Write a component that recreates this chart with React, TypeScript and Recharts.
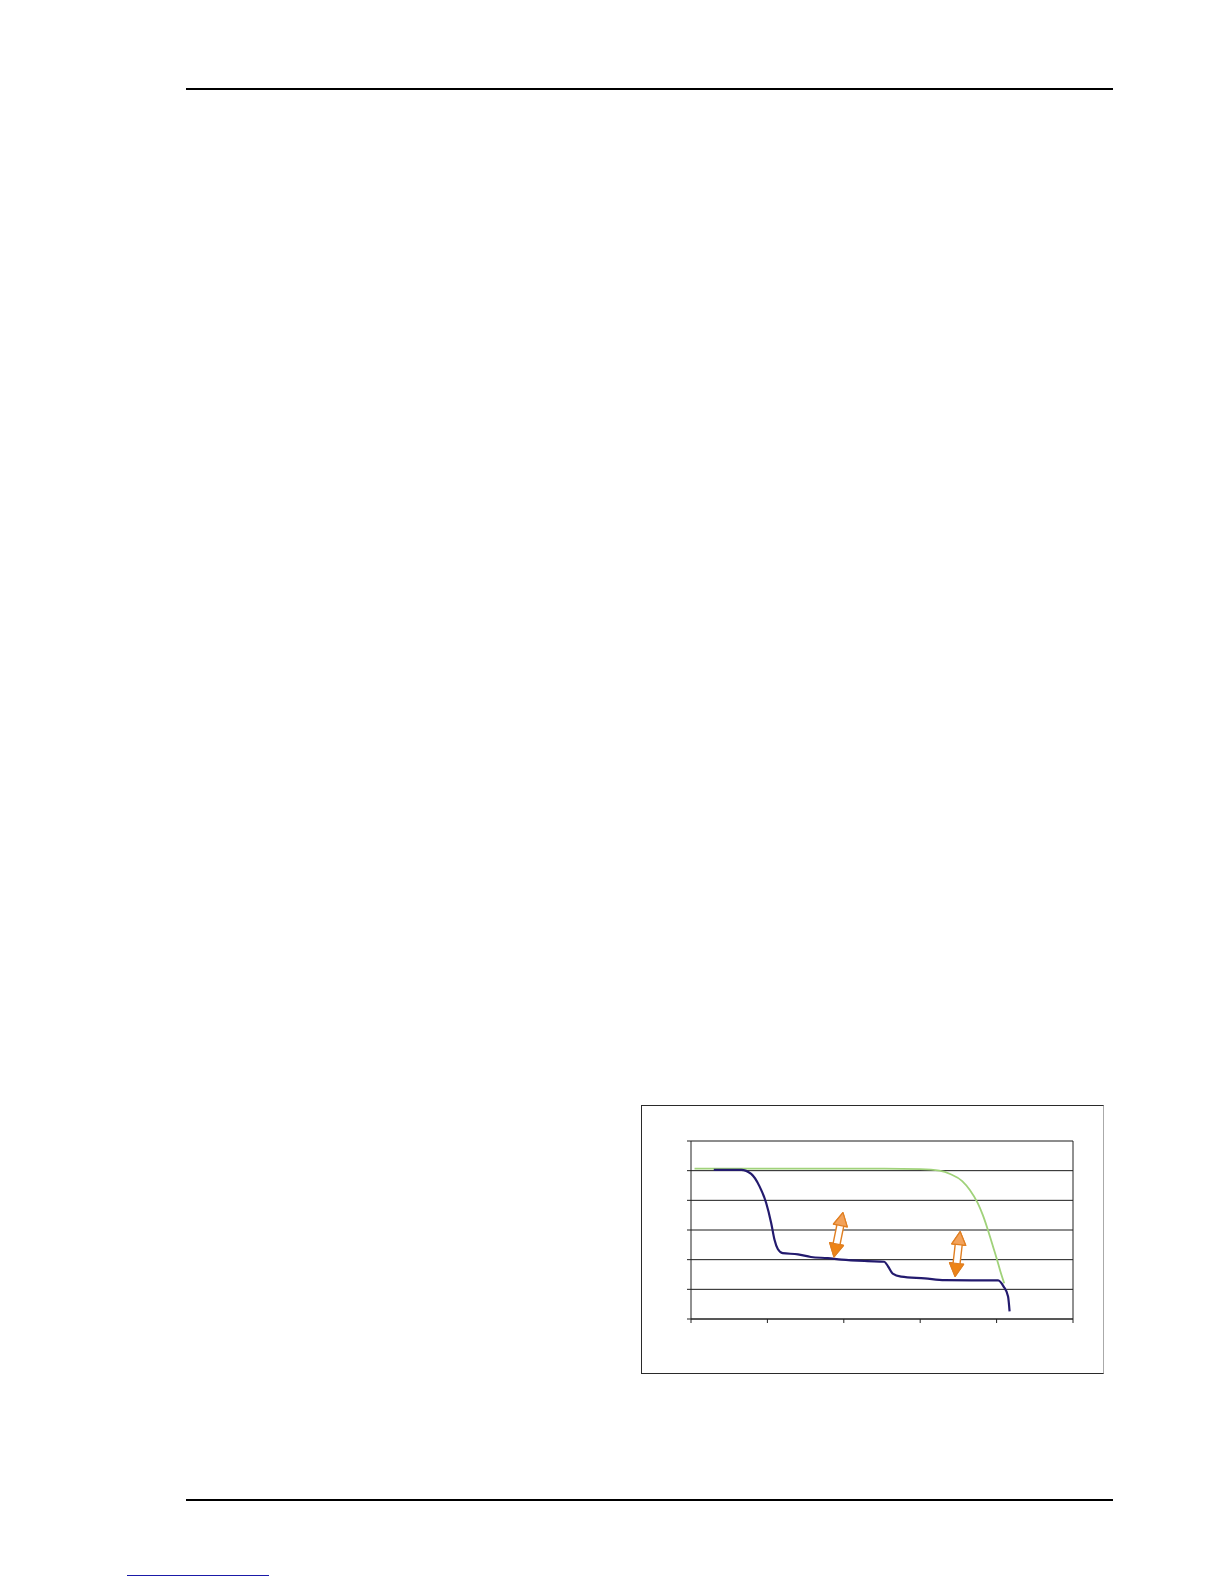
import React from "react";
import { LineChart, Line, XAxis, YAxis, CartesianGrid, ReferenceLine, ReferenceDot } from "recharts";

// Series values (x, y) (x domain 0-50, y domain 0-6)
const greenX = [0.46, 10, 20, 25.3, 30, 32.5, 34, 35.5, 36.5, 37.5, 38.2, 38.8, 39.4, 40.0, 40.5, 41.0];
const greenY = [5.07, 5.07, 5.07, 5.07, 5.05, 5.0, 4.88, 4.65, 4.35, 3.92, 3.5, 3.05, 2.55, 2.05, 1.6, 1.2];

const blueX = [2.98, 6.57, 7.88, 8.97, 9.84, 10.5, 10.93, 11.36, 12.0, 14.0, 15.7, 17.9, 19.7, 23.1, 25.3, 25.8, 26.4, 27.5, 30.6, 33.2, 40.2, 40.9, 41.5, 41.7];
const blueY = [5.03, 5.03, 4.89, 4.47, 3.91, 3.23, 2.67, 2.36, 2.22, 2.18, 2.09, 2.05, 2.0, 1.95, 1.93, 1.77, 1.53, 1.43, 1.37, 1.31, 1.30, 1.10, 0.76, 0.26];

const xTicks = [0, 10, 20, 30, 40, 50];
const yTicks = [0, 1, 2, 3, 4, 5, 6];

// Arrow annotations: centre (x, y) and tilt in degrees
const arrowX = [19.3, 34.9];
const arrowY = [2.84, 2.19];
const arrowTilt = [11.5, 6.5];

const greenData = greenX.map((x, i) => ({ x, y: greenY[i] }));
const blueData = blueX.map((x, i) => ({ x, y: blueY[i] }));

const EmptyTick = () => <g />;

const ArrowShape = (tilt: number) => (props: any) => {
  const { cx, cy } = props;
  const h = 22.5;
  const hl = 13;
  const hw = 7;
  const sw = 3.5;
  const outline = `0,${-h} ${hw},${-h + hl} ${sw},${-h + hl} ${sw},${h - hl} ${hw},${h - hl} 0,${h} ${-hw},${h - hl} ${-sw},${h - hl} ${-sw},${-h + hl} ${-hw},${-h + hl}`;
  const topHead = `0,${-h} ${hw},${-h + hl} ${-hw},${-h + hl}`;
  const botHead = `0,${h} ${hw},${h - hl} ${-hw},${h - hl}`;
  return (
    <g transform={`translate(${cx},${cy}) rotate(${tilt})`}>
      <polygon points={outline} fill="#ffffff" stroke="#E07F22" strokeWidth={1.4} strokeLinejoin="round" />
      <polygon points={topHead} fill="#F3A25A" stroke="#E07F22" strokeWidth={1.2} strokeLinejoin="round" />
      <polygon points={botHead} fill="#EE8416" stroke="#E07F22" strokeWidth={1.2} strokeLinejoin="round" />
    </g>
  );
};

export default function App() {
  return (
    <div style={{ position: "absolute", left: 0, top: 0, width: 1224, height: 1584, background: "#fff", overflow: "hidden" }}>
      <div style={{ position: "absolute", left: 186, top: 88, width: 927, height: 2, background: "#000" }} />
      <div style={{ position: "absolute", left: 186, top: 1499, width: 927, height: 2, background: "#000" }} />
      <div style={{ position: "absolute", left: 127, top: 1575, width: 142, height: 1, background: "#1a1aa8" }} />

      <div style={{ position: "absolute", left: 641, top: 1105, width: 463, height: 269, boxSizing: "border-box", border: "1px solid #2a2a2a", borderRightColor: "#aaaaaa" }} />
      <div style={{ position: "absolute", left: 641, top: 1105 }}>
        <LineChart width={463} height={269} margin={{ top: 36, right: 31, bottom: 0, left: 0 }}>
          <CartesianGrid horizontal={true} vertical={false} stroke="#1a1a1a" strokeWidth={1} />
          <XAxis
            type="number"
            dataKey="x"
            domain={[0, 50]}
            ticks={xTicks}
            tick={EmptyTick}
            tickSize={4}
            height={55}
            interval={0}
            axisLine={{ stroke: "#222" }}
            tickLine={{ stroke: "#222" }}
          />
          <YAxis
            type="number"
            dataKey="y"
            domain={[0, 6]}
            ticks={yTicks}
            tick={EmptyTick}
            tickSize={4}
            width={50}
            interval={0}
            axisLine={{ stroke: "#222" }}
            tickLine={{ stroke: "#222" }}
          />
          <ReferenceLine x={50} stroke="#222" strokeWidth={1} />
          <Line data={greenData} dataKey="y" type="monotone" stroke="#A0D27A" strokeWidth={1.8} dot={false} isAnimationActive={false} />
          <Line data={blueData} dataKey="y" type="monotone" stroke="#231A6E" strokeWidth={2.2} dot={false} isAnimationActive={false} />
          {arrowX.map((x, i) => (
            <ReferenceDot key={i} x={x} y={arrowY[i]} r={1} shape={ArrowShape(arrowTilt[i])} />
          ))}
        </LineChart>
      </div>
    </div>
  );
}
